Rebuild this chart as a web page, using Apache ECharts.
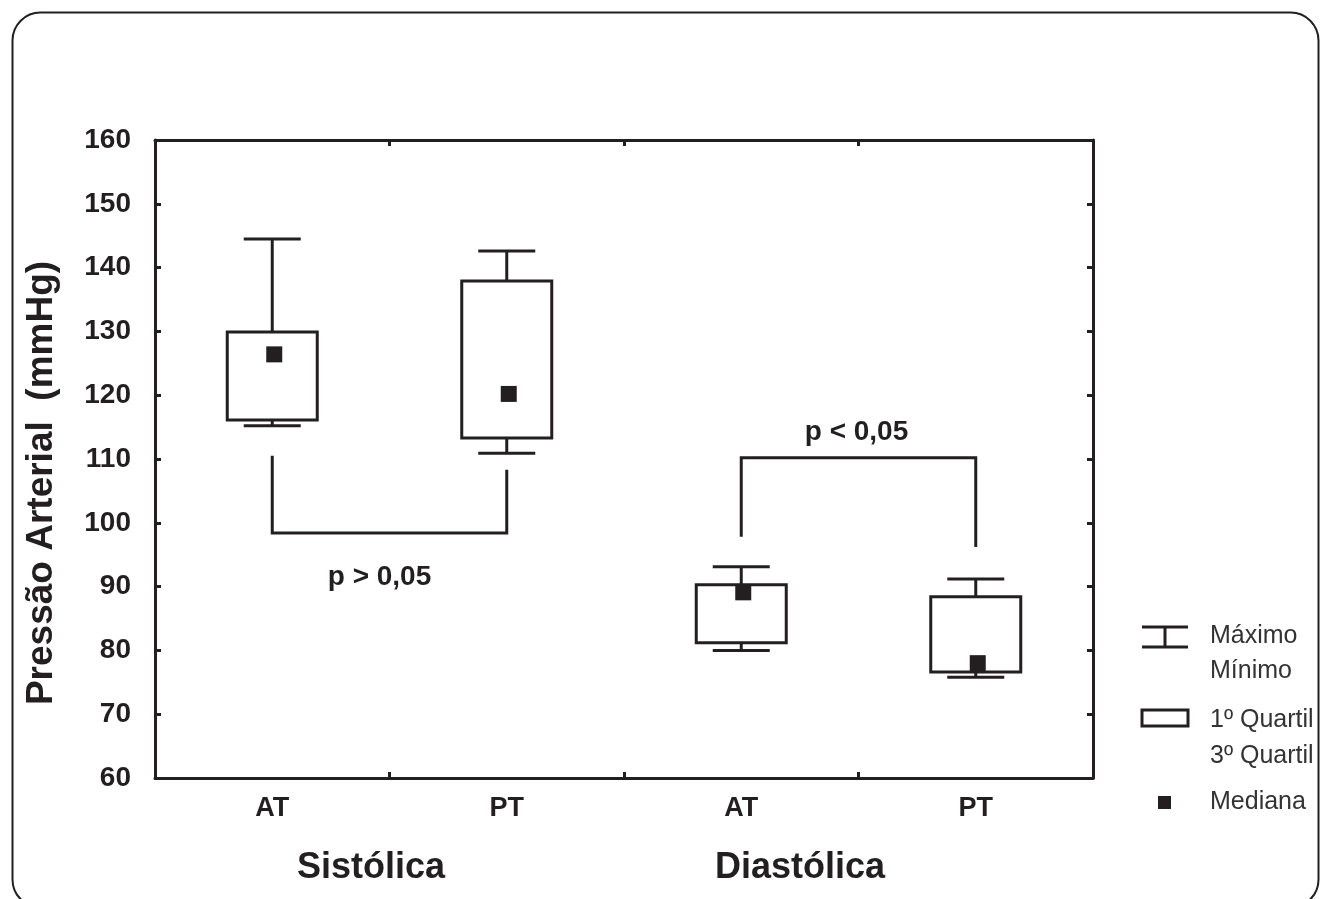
<!DOCTYPE html>
<html>
<head>
<meta charset="utf-8">
<script src="https://cdn.jsdelivr.net/npm/echarts@6/dist/echarts.min.js"></script>
<style>
html,body{margin:0;padding:0;background:#fff;}
#chart{width:1322px;height:899px;}
</style>
</head>
<body>
<div id="chart"></div>
<script>
// ---- data ----
const categories = ['AT', 'PT', 'AT', 'PT'];
const groupLabels = ['Sistólica', 'Diastólica'];
const yTitle = 'Pressão Arterial  (mmHg)';
const minVals    = [115.2, 110.9, 80.0, 75.8];
const q1Vals     = [116.1, 113.3, 81.2, 76.6];
const medianVals = [126.4, 120.2, 89.1, 78.0];
const q3Vals     = [129.9, 137.9, 90.3, 88.4];
const maxVals    = [144.5, 142.6, 93.1, 91.2];
const yMin = 60, yMax = 160, yStep = 10;
// significance brackets
const bracketFrom     = [0, 2];
const bracketTo       = [1, 3];
const bracketLeftEnd  = [110.5, 97.8];
const bracketRightEnd = [108.3, 96.2];
const bracketBar      = [98.4, 110.2];
const pLabels         = ['p > 0,05', 'p < 0,05'];
const legendLabels    = ['Máximo', 'Mínimo', '1º Quartil', '3º Quartil', 'Mediana'];

const INK = '#231f20';
const NARROW = "'Liberation Sans Narrow','Arial Narrow','Liberation Sans',Arial,sans-serif";
const SANS = "'Liberation Sans',Arial,sans-serif";

const boxData = categories.map((c, i) => [i, minVals[i], q1Vals[i], medianVals[i], q3Vals[i], maxVals[i]]);
const bracketData = bracketFrom.map((f, i) => [f, bracketTo[i], bracketLeftEnd[i], bracketRightEnd[i], bracketBar[i], i]);

function renderBox(params, api) {
  const x = api.value(0);
  const pMin = api.coord([x, api.value(1)]);
  const pQ1 = api.coord([x, api.value(2)]);
  const pMed = api.coord([x, api.value(3)]);
  const pQ3 = api.coord([x, api.value(4)]);
  const pMax = api.coord([x, api.value(5)]);
  const cx = pMin[0];
  const boxW = 90, capW = 57, sq = 16;
  const ls = { stroke: INK, lineWidth: 3, fill: null };
  return {
    type: 'group',
    children: [
      { type: 'line', shape: { x1: cx, y1: pMax[1], x2: cx, y2: pQ3[1] }, style: ls },
      { type: 'line', shape: { x1: cx - capW / 2, y1: pMax[1], x2: cx + capW / 2, y2: pMax[1] }, style: ls },
      { type: 'line', shape: { x1: cx, y1: pQ1[1], x2: cx, y2: pMin[1] }, style: ls },
      { type: 'line', shape: { x1: cx - capW / 2, y1: pMin[1], x2: cx + capW / 2, y2: pMin[1] }, style: ls },
      { type: 'rect', shape: { x: cx - boxW / 2, y: pQ3[1], width: boxW, height: pQ1[1] - pQ3[1] },
        style: { stroke: INK, lineWidth: 3, fill: '#fff' } },
      { type: 'rect', shape: { x: cx - sq / 2 + 2, y: pMed[1] - sq / 2, width: sq, height: sq },
        style: { fill: INK } }
    ]
  };
}

function renderBracket(params, api) {
  const a = api.value(0), b = api.value(1);
  const pL = api.coord([a, api.value(2)]);
  const pR = api.coord([b, api.value(3)]);
  const pBarL = api.coord([a, api.value(4)]);
  const pBarR = api.coord([b, api.value(4)]);
  const idx = api.value(5);
  const below = pBarL[1] > pL[1];
  const midX = (pBarL[0] + pBarR[0]) / 2;
  return {
    type: 'group',
    children: [
      { type: 'polyline', shape: { points: [pL, pBarL, pBarR, pR] },
        style: { stroke: INK, lineWidth: 3, fill: null } },
      { type: 'text',
        style: {
          text: pLabels[idx], x: midX + (below ? -10 : -2), y: below ? pBarL[1] + 44 : pBarL[1] - 25,
          align: 'center', verticalAlign: 'middle',
          font: "bold 28px " + SANS, fill: INK
        } }
    ]
  };
}

const chart = echarts.init(document.getElementById('chart'), null, { renderer: 'canvas' });

const legendX = 1142, textX = 1210;
const legendFont = "25px " + NARROW;

chart.setOption({
  animation: false,
  backgroundColor: '#fff',
  grid: { left: 155, right: 229, top: 140, bottom: 121, containLabel: false },
  xAxis: [
    {
      type: 'category', data: categories, position: 'bottom', boundaryGap: true,
      axisLine: { lineStyle: { color: INK, width: 3 } },
      axisTick: { show: true, inside: true, length: 6, interval: 0, lineStyle: { color: INK, width: 3 } },
      axisLabel: { margin: 17, color: INK, fontFamily: NARROW, fontWeight: 'bold', fontSize: 27 },
      splitLine: { show: false }
    },
    {
      type: 'category', data: categories, position: 'top', boundaryGap: true,
      axisLine: { lineStyle: { color: INK, width: 3 } },
      axisTick: { show: true, inside: true, length: 6, interval: 0, lineStyle: { color: INK, width: 3 } },
      axisLabel: { show: false }, splitLine: { show: false }
    }
  ],
  yAxis: [
    {
      type: 'value', min: yMin, max: yMax, interval: yStep, position: 'left',
      axisLine: { show: true, lineStyle: { color: INK, width: 3 } },
      axisTick: { show: true, inside: true, length: 6, lineStyle: { color: INK, width: 3 } },
      axisLabel: { margin: 24, color: INK, fontFamily: NARROW, fontWeight: 'bold', fontSize: 28 },
      splitLine: { show: false }
    },
    {
      type: 'value', min: yMin, max: yMax, interval: yStep, position: 'right',
      axisLine: { show: true, lineStyle: { color: INK, width: 3 } },
      axisTick: { show: true, inside: true, length: 6, lineStyle: { color: INK, width: 3 } },
      axisLabel: { show: false }, splitLine: { show: false }
    }
  ],
  series: [
    { type: 'custom', name: 'box', xAxisIndex: 0, yAxisIndex: 0, renderItem: renderBox,
      data: boxData, encode: { x: 0, y: [1, 2, 3, 4, 5] }, z: 3 },
    { type: 'custom', name: 'bracket', xAxisIndex: 0, yAxisIndex: 0, renderItem: renderBracket,
      data: bracketData, encode: { x: [0, 1], y: [2, 3, 4] }, z: 3 }
  ],
  graphic: [
    { type: 'rect', left: 10, top: 10, shape: { x: 0, y: 0, width: 1306, height: 895, r: 28 },
      style: { stroke: INK, lineWidth: 2, fill: null }, z: 1, silent: true },
    { type: 'text', x: 42, y: 483, rotation: Math.PI / 2,
      style: { text: yTitle, x: 0, y: 0, align: 'center', verticalAlign: 'middle',
        font: "bold 37px " + SANS, fill: INK } },
    { type: 'text', style: { text: groupLabels[0], x: 371, y: 868, align: 'center', verticalAlign: 'middle',
      font: "bold 36px " + SANS, fill: INK } },
    { type: 'text', style: { text: groupLabels[1], x: 800, y: 868, align: 'center', verticalAlign: 'middle',
      font: "bold 36px " + SANS, fill: INK } },
    // legend: whisker symbol
    { type: 'line', shape: { x1: legendX, y1: 627, x2: legendX + 46, y2: 627 }, style: { stroke: INK, lineWidth: 3 } },
    { type: 'line', shape: { x1: legendX, y1: 647, x2: legendX + 46, y2: 647 }, style: { stroke: INK, lineWidth: 3 } },
    { type: 'line', shape: { x1: legendX + 23, y1: 627, x2: legendX + 23, y2: 647 }, style: { stroke: INK, lineWidth: 3 } },
    { type: 'text', style: { text: legendLabels[0], x: textX, y: 636, verticalAlign: 'middle', font: legendFont, fill: '#333' } },
    { type: 'text', style: { text: legendLabels[1], x: textX, y: 671, verticalAlign: 'middle', font: legendFont, fill: '#333' } },
    // legend: quartile box
    { type: 'rect', shape: { x: legendX, y: 710, width: 46, height: 16 }, style: { stroke: INK, lineWidth: 3, fill: '#fff' } },
    { type: 'text', style: { text: legendLabels[2], x: textX, y: 720, verticalAlign: 'middle', font: legendFont, fill: '#333' } },
    { type: 'text', style: { text: legendLabels[3], x: textX, y: 756, verticalAlign: 'middle', font: legendFont, fill: '#333' } },
    // legend: median square
    { type: 'rect', shape: { x: legendX + 16, y: 796, width: 13, height: 13 }, style: { fill: INK } },
    { type: 'text', style: { text: legendLabels[4], x: textX, y: 802, verticalAlign: 'middle', font: legendFont, fill: '#333' } }
  ]
});
</script>
</body>
</html>
